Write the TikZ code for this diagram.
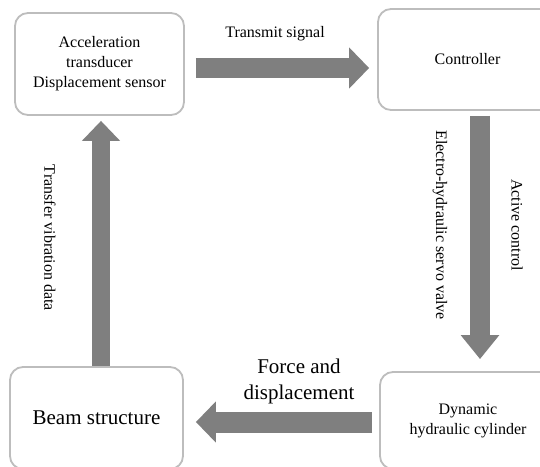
\documentclass[tikz,border=0pt]{standalone}
\usepackage{fontspec}
\setmainfont{Liberation Serif}
\usetikzlibrary{arrows.meta}
\definecolor{boxline}{HTML}{BDBDBD}
\definecolor{arrowgray}{HTML}{7F7F7F}
\tikzset{
  stepbox/.style={draw=boxline, line width=1.8pt, rounded corners=13pt, fill=white,
    align=center, inner sep=0pt, font=\fontsize{16pt}{20pt}\selectfont},
  bigarrow/.style={draw=arrowgray, line width=#1, line cap=butt},
  hhead/.style={-{Triangle[width=40pt,length=20pt]}},
  vhead/.style={-{Triangle[width=37pt,length=24pt]}},
  lbl/.style={font=\fontsize{16pt}{20pt}\selectfont, align=center, inner sep=0pt},
  biglbl/.style={font=\fontsize{21pt}{26pt}\selectfont, align=center, inner sep=0pt}
}
\begin{document}
\begin{tikzpicture}[x=1pt,y=-1pt]
\useasboundingbox (0,0) rectangle (540,466);
\clip (0,0) rectangle (540,466);
\fill[white] (0,0) rectangle (540,466);
% boxes
\node[stepbox, minimum width=169pt, minimum height=102pt] (A) at (99.5,64) {Acceleration\\transducer\\Displacement sensor};
\node[stepbox, minimum width=179pt, minimum height=101pt] (B) at (467.5,59.5) {Controller};
\node[stepbox, minimum width=176pt, minimum height=97pt] (C) at (468,420.5) {Dynamic\\hydraulic cylinder};
\node[stepbox, minimum width=173pt, minimum height=102pt, font=\fontsize{21pt}{26pt}\selectfont] (D) at (96.5,418) {Beam structure};
% arrows
\draw[bigarrow=20pt, hhead] ([shift={(11,4)}]A.east) -- ([shift={(-8,8.5)}]B.west);
\draw[bigarrow=20pt, vhead] ([shift={(12.5,5)}]B.south) -- ([shift={(12,-12)}]C.north);
\draw[bigarrow=21pt, hhead] ([shift={(-7,1.5)}]C.west) -- ([shift={(12,4)}]D.east);
\draw[bigarrow=18pt, -{Triangle[width=37pt,length=20pt]}] ([shift={(4.5,0)}]D.north) -- ([shift={(1.5,5)}]A.south);
% labels
\node[lbl] (t1) at (275,34) {Transmit signal};
\node[lbl, rotate=-90] (t2) at (440,225) {Electro-hydraulic servo valve};
\node[lbl, rotate=-90] (t3) at (517,225) {Active control};
\node[lbl, rotate=-90] (t4) at (50,238) {Transfer vibration data};
\node[biglbl] (t5) at (299,381) {Force and\\displacement};
\end{tikzpicture}
\end{document}
